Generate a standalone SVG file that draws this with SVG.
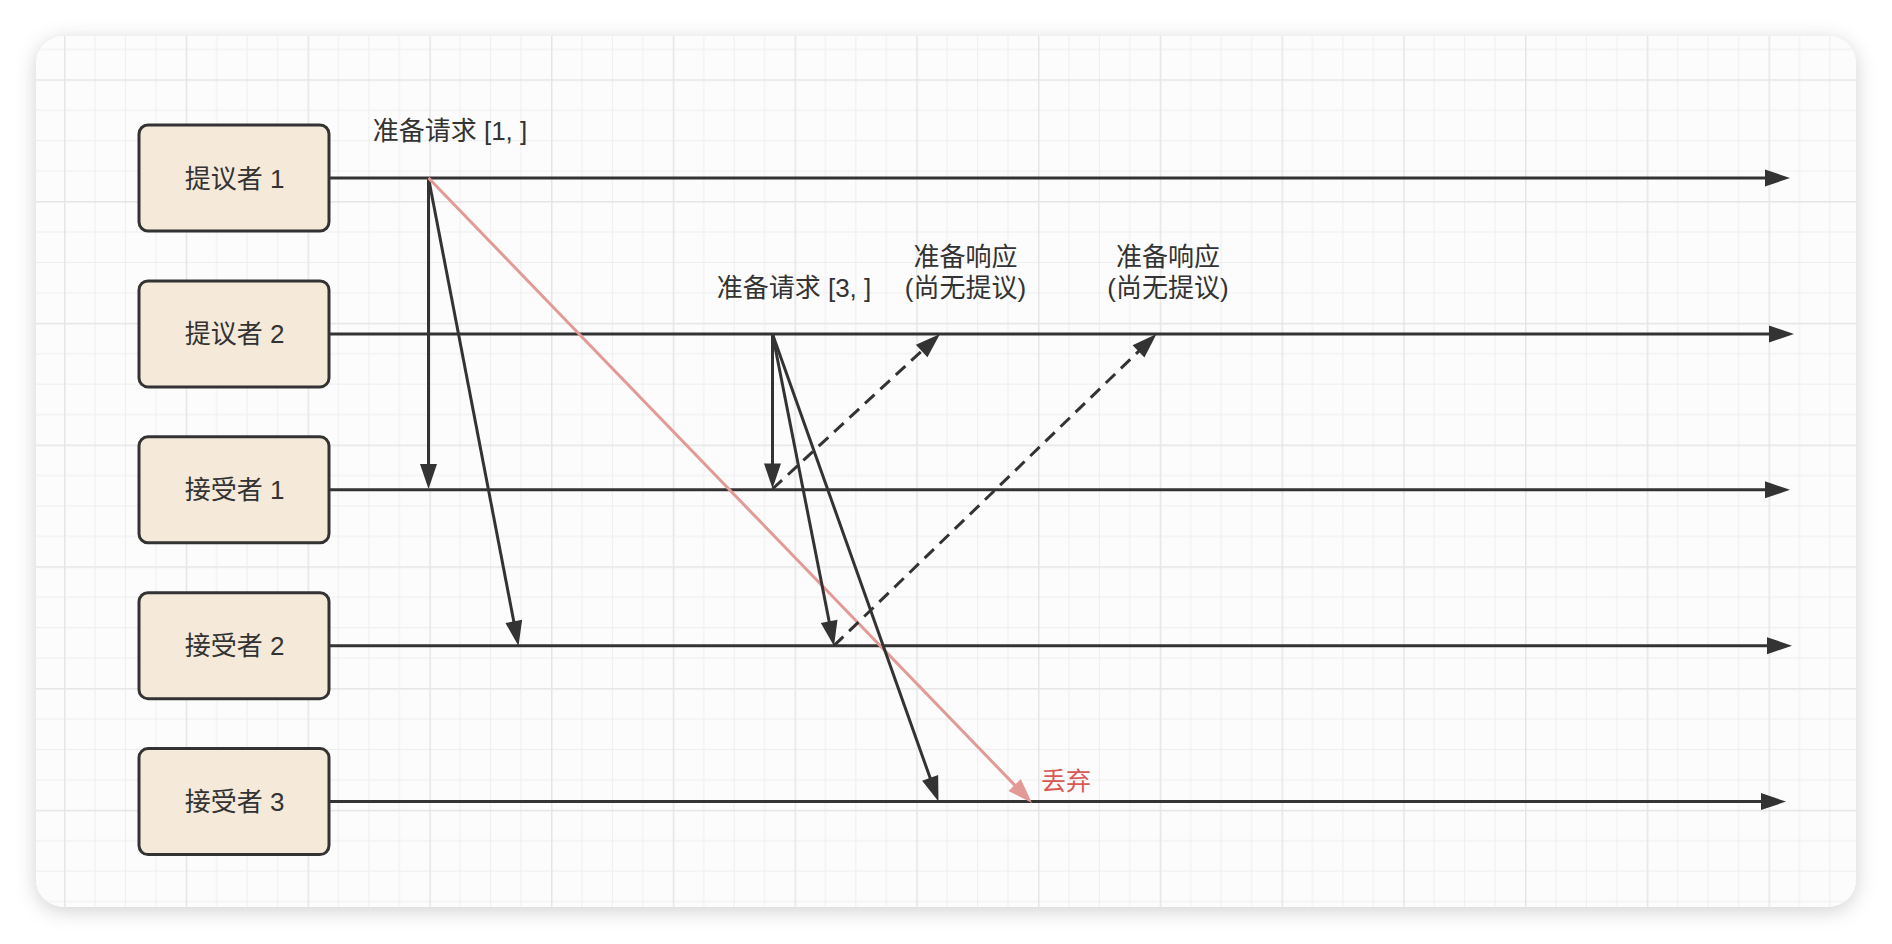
<svg xmlns="http://www.w3.org/2000/svg" width="1892" height="944" viewBox="0 0 1892 944">
<defs>
<style>
.node rect{fill:#f5e9da;stroke:#333333;stroke-width:3}
.label{font-family:"Liberation Sans","Noto Sans CJK SC",sans-serif;font-size:26px;fill:#333333}
.node text{text-anchor:middle}
.mid{text-anchor:middle}
.edge{fill:none;stroke:#333333;stroke-width:3}
.dash{stroke-dasharray:13 8}
.red{stroke:#e29a97}
.redtext{fill:#d75a55;font-size:25px}
</style>
<filter id="shadow" x="-5%" y="-10%" width="110%" height="120%">
<feDropShadow dx="0" dy="4" stdDeviation="10" flood-color="#000000" flood-opacity="0.18"/>
</filter>
<pattern id="grid" patternUnits="userSpaceOnUse" x="64" y="79.3" width="121.75" height="121.75">
<path d="M30.94 0V121.75M61.375 0V121.75M91.81 0V121.75M0 30.94H121.75M0 61.375H121.75M0 91.81H121.75" fill="none" stroke="#eeeeee" stroke-width="1"/>
<path d="M0.75 0V121.75M0 0.75H121.75" fill="none" stroke="#e5e5e5" stroke-width="1.5"/>
</pattern>
<marker id="arr" markerUnits="userSpaceOnUse" markerWidth="25" markerHeight="17" refX="10" refY="8.5" orient="auto" overflow="visible">
<path d="M0,0L25,8.5L0,17Z" fill="#333333"/>
</marker>
<marker id="arrRed" markerUnits="userSpaceOnUse" markerWidth="25" markerHeight="17" refX="10" refY="8.5" orient="auto" overflow="visible">
<path d="M0,0L25,8.5L0,17Z" fill="#e29a97"/>
</marker>
</defs>
<rect x="0" y="0" width="1892" height="944" fill="#ffffff"/>
<rect x="36" y="36" width="1820" height="871" rx="28" fill="#fcfcfc" filter="url(#shadow)"/>
<rect x="36" y="36" width="1820" height="871" rx="28" fill="url(#grid)"/>

<g id="connectors">
<line class="edge" x1="329" y1="178" x2="1775" y2="178" marker-end="url(#arr)"/>
<line class="edge" x1="329" y1="334" x2="1779" y2="334" marker-end="url(#arr)"/>
<line class="edge" x1="329" y1="489.8" x2="1775" y2="489.8" marker-end="url(#arr)"/>
<line class="edge" x1="329" y1="645.7" x2="1777" y2="645.7" marker-end="url(#arr)"/>
<line class="edge" x1="329" y1="801.6" x2="1771" y2="801.6" marker-end="url(#arr)"/>
<line class="edge" x1="428.5" y1="178" x2="428.5" y2="474" marker-end="url(#arr)"/>
<line class="edge" x1="428.5" y1="178" x2="515.67" y2="631.27" marker-end="url(#arr)"/>
<line class="edge red" x1="428.5" y1="178" x2="1021.58" y2="792.21" marker-end="url(#arrRed)"/>
<line class="edge" x1="772.5" y1="334" x2="772.5" y2="473.5" marker-end="url(#arr)"/>
<line class="edge" x1="772.5" y1="334" x2="831.1" y2="631.28" marker-end="url(#arr)"/>
<line class="edge" x1="772.5" y1="334" x2="933.48" y2="787.36" marker-end="url(#arr)"/>
<line class="edge dash" x1="772.5" y1="489" x2="928.99" y2="344.19" marker-end="url(#arr)"/>
<line class="edge dash" x1="834" y1="645.7" x2="1145.71" y2="344.43" marker-end="url(#arr)"/>
</g>

<g id="edge-labels" class="label">
<text class="mid" x="450" y="140">准备请求 [1, ]</text>
<text class="mid" x="794" y="297">准备请求 [3, ]</text>
<text class="mid" x="965.5" y="265.5">准备响应</text>
<text class="mid" x="965.5" y="297">(尚无提议)</text>
<text class="mid" x="1168" y="265.5">准备响应</text>
<text class="mid" x="1168" y="297">(尚无提议)</text>
<text class="redtext" x="1041" y="790">丢弃</text>
</g>

<g id="n-p1" class="node label">
<rect x="139" y="125" width="190" height="106" rx="9"/>
<text x="234.5" y="187.5">提议者 1</text>
</g>
<g id="n-p2" class="node label">
<rect x="139" y="280.9" width="190" height="106" rx="9"/>
<text x="234.5" y="343.4">提议者 2</text>
</g>
<g id="n-a1" class="node label">
<rect x="139" y="436.8" width="190" height="106" rx="9"/>
<text x="234.5" y="499.3">接受者 1</text>
</g>
<g id="n-a2" class="node label">
<rect x="139" y="592.7" width="190" height="106" rx="9"/>
<text x="234.5" y="655.2">接受者 2</text>
</g>
<g id="n-a3" class="node label">
<rect x="139" y="748.6" width="190" height="106" rx="9"/>
<text x="234.5" y="811.1">接受者 3</text>
</g>
</svg>
